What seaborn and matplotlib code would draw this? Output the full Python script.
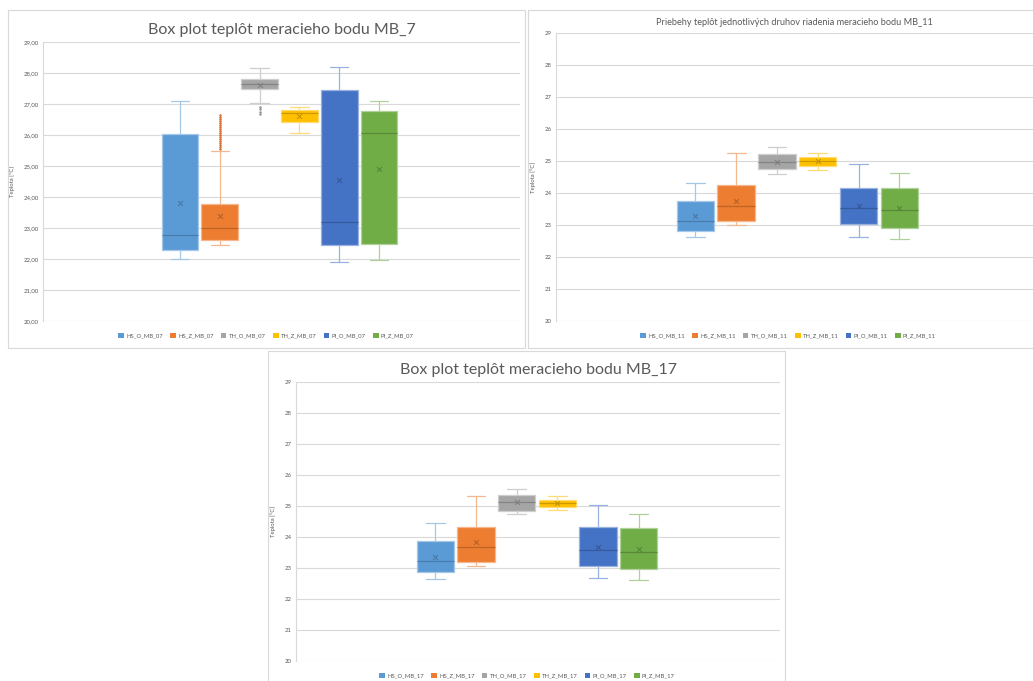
import numpy as np
import pandas as pd
import seaborn as sns
import matplotlib
matplotlib.use("Agg")
import matplotlib.pyplot as plt
from matplotlib.patches import Patch, Rectangle
from matplotlib.colors import to_rgb

# measuring point MB_7
series_07 = ["HS_O_MB_07", "HS_Z_MB_07", "TH_O_MB_07", "TH_Z_MB_07", "PI_O_MB_07", "PI_Z_MB_07"]
lo_07 = [22.00, 22.44, 27.04, 26.08, 21.91, 21.96]
q1_07 = [22.28, 22.61, 27.47, 26.41, 22.44, 22.48]
med_07 = [22.76, 23.00, 27.64, 26.70, 23.20, 26.05]
q3_07 = [26.02, 23.79, 27.80, 26.80, 27.45, 26.78]
hi_07 = [27.10, 25.48, 28.15, 26.90, 28.20, 27.10]
mean_07 = [23.80, 23.38, 27.61, 26.62, 24.54, 24.89]
outliers_hs_z_07 = [25.55, 25.61, 25.68, 25.74, 25.81, 25.87, 25.94, 26.00, 26.07,
                    26.13, 26.20, 26.26, 26.33, 26.39, 26.46, 26.52, 26.59, 26.65]
outliers_th_o_07 = [26.68, 26.75, 26.83, 26.90]

# measuring point MB_11
series_11 = ["HS_O_MB_11", "HS_Z_MB_11", "TH_O_MB_11", "TH_Z_MB_11", "PI_O_MB_11", "PI_Z_MB_11"]
lo_11 = [22.63, 23.00, 24.59, 24.72, 22.62, 22.57]
q1_11 = [22.82, 23.11, 24.75, 24.85, 23.02, 22.92]
med_11 = [23.14, 23.60, 24.96, 24.99, 23.53, 23.48]
q3_11 = [23.75, 24.24, 25.23, 25.12, 24.16, 24.16]
hi_11 = [24.31, 25.24, 25.44, 25.25, 24.90, 24.62]
mean_11 = [23.28, 23.76, 24.98, 24.99, 23.58, 23.54]

# measuring point MB_17
series_17 = ["HS_O_MB_17", "HS_Z_MB_17", "TH_O_MB_17", "TH_Z_MB_17", "PI_O_MB_17", "PI_Z_MB_17"]
lo_17 = [22.66, 23.07, 24.73, 24.88, 22.68, 22.61]
q1_17 = [22.87, 23.20, 24.84, 24.98, 23.06, 22.96]
med_17 = [23.22, 23.67, 25.12, 25.09, 23.57, 23.52]
q3_17 = [23.86, 24.31, 25.36, 25.18, 24.31, 24.29]
hi_17 = [24.44, 25.31, 25.55, 25.31, 25.02, 24.75]
mean_17 = [23.36, 23.83, 25.12, 25.10, 23.67, 23.61]

colors = ["#5B9BD5", "#ED7D31", "#A5A5A5", "#FFC000", "#4472C4", "#70AD47"]
text_col = "#595959"
grid_col = "#d9d9d9"

sns.set_style("white")
plt.rcParams["font.family"] = ["Lato", "DejaVu Sans"]


def tint(c, f):
    r = np.array(to_rgb(c))
    return tuple(r + (1 - r) * f)


def shade(c, f):
    return tuple(np.array(to_rgb(c)) * f)


def long_table(names, lo, q1, med, q3, hi):
    rows = []
    for k, name in enumerate(names):
        for v in (lo[k], q1[k], med[k], q3[k], hi[k]):
            rows.append({"series": name, "temp": v})
    return pd.DataFrame(rows)


def draw_panel(ax, names, lo, q1, med, q3, hi, means, xlim, title, title_size,
               tick_fmt, legend_xy, outliers=None):
    df = long_table(names, lo, q1, med, q3, hi)
    for k, name in enumerate(names):
        c = colors[k]
        sns.boxplot(data=df[df["series"] == name], x="series", y="temp", order=names,
                    whis=(0, 100), width=0.92, color=c, saturation=1,
                    linecolor=tint(c, 0.45), linewidth=0.9, fliersize=0,
                    medianprops={"color": shade(c, 0.8), "linewidth": 0.9},
                    ax=ax)
    sns.stripplot(x=names, y=means, order=names, hue=names,
                  palette=[shade(c, 0.75) for c in colors], jitter=False,
                  marker="x", s=3.5, linewidth=0.7, legend=False, ax=ax)
    if outliers:
        for name, vals in outliers:
            k = names.index(name)
            sns.stripplot(x=[name] * len(vals), y=vals, order=names, jitter=False,
                          color=shade(colors[k], 0.9), size=1.8, ax=ax)

    ax.set_xlim(*xlim)
    ax.set_ylim(20, 29)
    ax.set_yticks(range(20, 30))
    ax.set_yticklabels([tick_fmt(t) for t in range(20, 30)], fontsize=4.3, color=text_col)
    ax.set_xticks([])
    ax.set_xlabel("")
    ax.set_ylabel("Teplota [°C]", fontsize=4.2, color=text_col, labelpad=6)
    ax.tick_params(axis="y", length=0, pad=3)
    ax.grid(axis="y", color=grid_col, linewidth=0.8)
    ax.set_axisbelow(True)
    for side in ["top", "right", "bottom"]:
        ax.spines[side].set_visible(False)
    ax.spines["left"].set_color(grid_col)
    ax.spines["left"].set_linewidth(0.8)
    ax.set_title(title, fontsize=title_size, color=text_col, pad=6)

    handles = [Patch(facecolor=c, edgecolor="none") for c in colors]
    ax.legend(handles, names, ncol=6, loc="center", bbox_to_anchor=legend_xy,
              bbox_transform=fig.transFigure, frameon=False, fontsize=4.2,
              handlelength=1.0, handleheight=1.0, handletextpad=0.4,
              columnspacing=1.2, labelcolor=text_col)


W, H = 1033, 681
fig = plt.figure(figsize=(W / 100, H / 100), dpi=100)


def frame(x0, y0, x1, y1):
    fig.add_artist(Rectangle((x0 / W, 1 - y1 / H), (x1 - x0) / W, (y1 - y0) / H,
                             transform=fig.transFigure, fill=False,
                             edgecolor=grid_col, linewidth=0.8))


def axes_px(x0, y0, x1, y1):
    return fig.add_axes([x0 / W, 1 - y1 / H, (x1 - x0) / W, (y1 - y0) / H])


frame(8, 10, 525, 348)
frame(528, 10, 1045, 348)
frame(268, 351, 785, 690)

ax1 = axes_px(43, 42, 520, 321)
draw_panel(ax1, series_07, lo_07, q1_07, med_07, q3_07, hi_07, mean_07,
           (-3.44, 8.54), "Box plot teplôt meracieho bodu MB_7", 11.5,
           lambda t: f"{t:.2f}".replace(".", ","), (266 / W, 1 - 336 / H),
           outliers=[("HS_Z_MB_07", outliers_hs_z_07), ("TH_O_MB_07", outliers_th_o_07)])

ax2 = axes_px(556, 33, 1033, 321)
draw_panel(ax2, series_11, lo_11, q1_11, med_11, q3_11, hi_11, mean_11,
           (-3.42, 8.28), "Priebehy teplôt jednotlivých druhov riadenia meracieho bodu MB_11", 6.6,
           lambda t: f"{t}", (788 / W, 1 - 336 / H))

ax3 = axes_px(296, 382, 780, 661)
draw_panel(ax3, series_17, lo_17, q1_17, med_17, q3_17, hi_17, mean_17,
           (-3.43, 8.48), "Box plot teplôt meracieho bodu MB_17", 11.5,
           lambda t: f"{t}", (527 / W, 1 - 676 / H))

fig.savefig("out.png", dpi=100, facecolor="white")
